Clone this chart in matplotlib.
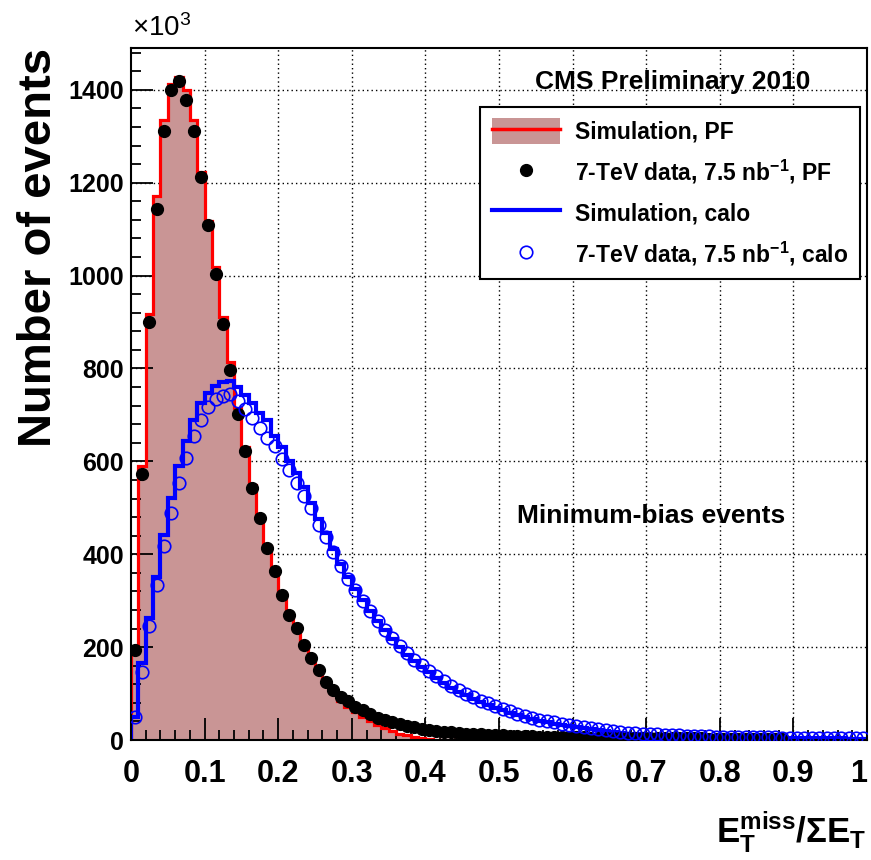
import matplotlib
matplotlib.use("Agg")
import matplotlib.pyplot as plt
import numpy as np
from matplotlib.lines import Line2D
from matplotlib.patches import Patch

plt.rcParams["font.family"] = ["Liberation Sans", "DejaVu Sans"]
plt.rcParams["font.weight"] = "bold"
plt.rcParams["mathtext.default"] = "regular"

# 100 bins of 0.01 in MET / sum(ET); counts in units of 10^3 events
BIN_EDGES = np.linspace(0.0, 1.0, 101)

pf_sim = [
    200, 590, 917, 1172, 1334, 1413, 1428, 1400, 1334, 1223,
    1118, 1018, 910, 813, 715, 630, 550, 482, 418, 366,
    314, 270, 238, 202, 172, 146, 122, 102, 85, 72,
    60, 49, 40, 32, 25, 19, 14, 10, 7, 4,
    2, 1,
] + [0] * 58

pf_data = [
    194, 572, 900, 1144, 1312, 1399, 1418, 1377, 1312, 1212,
    1108, 1003, 895, 797, 701, 622, 543, 477, 414, 365,
    313, 270, 241, 205, 176, 151, 126, 108, 93, 83,
    72, 64, 55, 48, 43, 38, 34, 30, 27, 24,
    22, 20, 18, 16.5, 15, 14, 13, 12, 11, 10.5,
    10, 9.5, 9, 8.5, 8, 7.5, 7, 6.5, 6, 6,
    5.5, 5.5, 5, 5, 5, 4.5, 4.5, 4.5, 4, 4,
    4, 4, 4, 3.5, 3.5, 3.5, 3.5, 3.5, 3, 3,
    3, 3, 3, 3, 3, 3, 3, 3, 3,
]

calo_sim = [
    50, 166, 263, 352, 442, 522, 590, 643, 690, 726,
    748, 762, 771, 773, 760, 742, 725, 705, 688, 655,
    630, 600, 575, 545, 510, 475, 445, 412, 380, 350,
    325, 302, 278, 256, 236, 218, 200, 184, 170, 158,
    146, 134, 122, 111, 103, 96, 88, 81, 75, 69,
    64, 59, 54, 49, 45, 41, 38, 35, 32, 30,
    27, 25, 23, 21, 19, 17, 16, 14, 13, 12,
    11, 10, 9.5, 9, 8.5, 8, 7.5, 7, 6.5, 6,
    6, 5.5, 5.5, 5, 5, 5, 4.5, 4.5, 4.5, 4,
    4, 4, 4, 3.5, 3.5, 3.5, 3.5, 3, 3, 3,
]

calo_data = [
    50, 147, 245, 334, 417, 489, 554, 608, 654, 690,
    716, 734, 740, 744, 730, 712, 694, 672, 651, 633,
    604, 582, 554, 525, 500, 464, 437, 405, 375, 347,
    322, 300, 277, 256, 237, 219, 202, 187, 173, 161,
    149, 138, 127, 117, 108, 100, 92, 85, 79, 73,
    67, 62, 57, 52, 48, 44, 41, 38, 35, 32,
    30, 27, 25, 23, 21, 19, 18, 16, 15, 14,
    13, 12, 11, 10.5, 10, 9.5, 9, 8.5, 8, 7.5,
    7, 7, 6.5, 6.5, 6, 6, 5.5, 5.5, 5, 5,
    5, 5, 4.5, 4.5, 4.5, 4, 4, 4, 4, 4,
]

X_TICKS = [0, 0.1, 0.2, 0.3, 0.4, 0.5, 0.6, 0.7, 0.8, 0.9, 1.0]
X_TICK_LABELS = ["0", "0.1", "0.2", "0.3", "0.4", "0.5", "0.6", "0.7", "0.8", "0.9", "1"]
Y_TICKS = [0, 200, 400, 600, 800, 1000, 1200, 1400]
Y_MAX = 1490

PINK = "#c99595"
RED = "#ff0000"
BLUE = "#0000ff"

fig = plt.figure(figsize=(8.71, 8.60), dpi=100)
ax = fig.add_axes([0.1504, 0.1395, 0.845, 0.8047])

centers = 0.5 * (BIN_EDGES[:-1] + BIN_EDGES[1:])

for x in X_TICKS[1:-1]:
    ax.axvline(x, color="black", lw=1.0, ls=(0, (1, 2.2)), zorder=0.5)
for y in Y_TICKS[1:]:
    ax.axhline(y, color="black", lw=1.0, ls=(0, (1, 2.2)), zorder=0.5)

ax.stairs(pf_sim, BIN_EDGES, fill=True, color=PINK, zorder=1)
ax.stairs(pf_sim, BIN_EDGES, color=RED, lw=2.3, zorder=2)
ax.stairs(calo_sim, BIN_EDGES, color=BLUE, lw=3.0, zorder=2.2)

n_pf = len(pf_data)
ax.plot(centers[:n_pf], pf_data, "o", color="black", ms=8.5, zorder=3)
ax.plot(centers, calo_data, "o", mfc="none", mec=BLUE, mew=1.2, ms=9, zorder=3.1)

ax.set_xlim(0, 1)
ax.set_ylim(0, Y_MAX)
ax.set_xticks(X_TICKS, X_TICK_LABELS)
ax.set_yticks(Y_TICKS)
ax.set_xticks(np.arange(0, 1.0001, 0.02), minor=True)
ax.set_yticks(np.arange(0, Y_MAX, 40), minor=True)
ax.tick_params(which="both", direction="in", top=False, right=False, width=1.3)
ax.tick_params(which="major", length=16)
ax.tick_params(which="minor", length=7.5)
ax.tick_params(axis="x", labelsize=22, pad=14)
ax.tick_params(axis="y", labelsize=18, pad=5)
# keep the last x label inside the canvas
ax.get_xticklabels()[-1].set_horizontalalignment("right")
for spine in ax.spines.values():
    spine.set_linewidth(1.5)

handles = [
    (Patch(facecolor=PINK, edgecolor="none"), Line2D([], [], color=RED, lw=2.5)),
    Line2D([], [], ls="none", marker="o", color="black", ms=8.5),
    Line2D([], [], color=BLUE, lw=3),
    Line2D([], [], ls="none", marker="o", mfc="none", mec=BLUE, mew=1.2, ms=9),
]
labels = [
    "Simulation, PF",
    "7-TeV data, 7.5 nb$^{-1}$, PF",
    "Simulation, calo",
    "7-TeV data, 7.5 nb$^{-1}$, calo",
]
leg = ax.legend(
    handles, labels, loc="upper right", bbox_to_anchor=(0.9905, 0.9147),
    fontsize=16.5, frameon=True, fancybox=False, framealpha=1, edgecolor="black",
    handlelength=3.0, handleheight=1.35, handletextpad=0.65, borderpad=0.5,
    labelspacing=0.6, borderaxespad=0,
)
leg.get_frame().set_linewidth(1.5)

ax.text(0.7364, 0.951, "CMS Preliminary 2010", transform=ax.transAxes,
        ha="center", va="center", fontsize=19)
ax.text(0.7065, 0.3237, "Minimum-bias events", transform=ax.transAxes,
        ha="center", va="center", fontsize=19)

fig.text(0.1516, 0.951, r"$\times$10$^{3}$", ha="left", va="bottom", fontsize=20,
         fontweight="normal")
fig.text(0.0448, 0.944, "Number of events", rotation=90, ha="center", va="top",
         fontsize=34)
fig.text(0.995, 0.0326, r"$E_{T}^{miss}/\Sigma E_{T}$", ha="right", va="center",
         fontsize=25)

fig.savefig("out.png", dpi=100)
